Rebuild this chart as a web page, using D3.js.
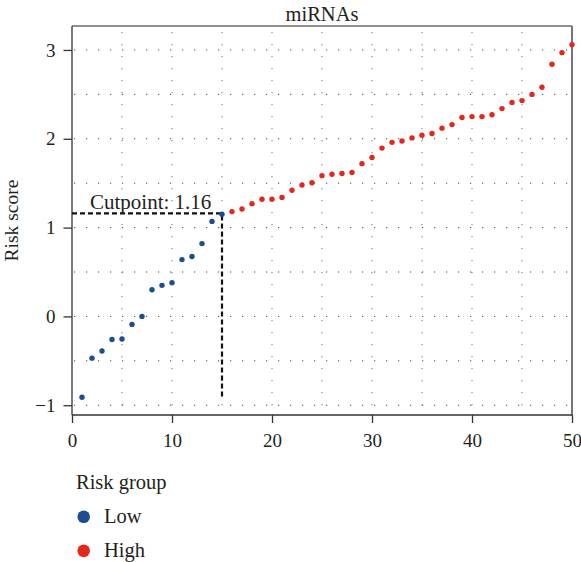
<!DOCTYPE html>
<html><head><meta charset="utf-8">
<script src="https://cdn.jsdelivr.net/npm/d3@7"></script>
<style>body{margin:0;background:#fff}svg{display:block}text{font-family:"Liberation Serif","DejaVu Serif",serif;fill:#231f20}</style>
</head><body>
<script>
const title = "miRNAs";
const sampleIndex = d3.range(1, 51);
const riskScores = [
  -0.91, -0.47, -0.39, -0.26, -0.255, -0.09, 0.0, 0.30, 0.35, 0.38,
  0.64, 0.675, 0.82, 1.07, 1.15, 1.18, 1.21, 1.27, 1.32, 1.32,
  1.34, 1.42, 1.48, 1.505, 1.585, 1.60, 1.61, 1.62, 1.72, 1.79,
  1.895, 1.96, 1.975, 2.01, 2.04, 2.06, 2.12, 2.16, 2.24, 2.25,
  2.25, 2.27, 2.34, 2.41, 2.43, 2.50, 2.58, 2.84, 2.97, 3.06
];
const cutpoint = 1.16;
const cutIndex = 15;
const groups = ["Low", "High"];
const groupColors = ["#1c4c94", "#e2281d"];
const xTicks = [0, 10, 20, 30, 40, 50];
const yTicks = [-1, 0, 1, 2, 3];
const xGrid = [5, 10, 15, 20, 25, 30, 35, 40, 45];
const yGrid = [-1, -0.5, 0, 0.5, 1, 1.5, 2, 2.5, 3];

const W = 581, H = 562;
const L = 72, R = 572, T = 26, B = 415;
const svg = d3.select("body").append("svg").attr("width", W).attr("height", H);

const x = d3.scaleLinear().domain([0, 50]).range([L, R]);
const y = d3.scaleLinear().domain([-1.11, 3.27]).range([B, T]);
const color = d3.scaleOrdinal().domain(groups).range(groupColors);

// grid
svg.append("g").selectAll("line").data(yGrid).join("line")
  .attr("x1", L + 2).attr("x2", R).attr("y1", d => y(d)).attr("y2", d => y(d))
  .attr("stroke", "#444").attr("stroke-width", 1).attr("stroke-dasharray", "1.2,10.8");
svg.append("g").selectAll("line").data(xGrid).join("line")
  .attr("x1", d => x(d)).attr("x2", d => x(d)).attr("y1", T + 6).attr("y2", B)
  .attr("stroke", "#888").attr("stroke-width", 1.2).attr("stroke-dasharray", "1.2,10.8");

// frame
svg.append("line").attr("x1", L).attr("x2", R).attr("y1", T).attr("y2", T).attr("stroke", "#222").attr("stroke-width", 1.2);
svg.append("line").attr("x1", R).attr("x2", R).attr("y1", T).attr("y2", B).attr("stroke", "#666").attr("stroke-width", 1.8);

// axes
const xAxis = svg.append("g").attr("transform", `translate(0,${B})`)
  .call(d3.axisBottom(x).tickValues(xTicks).tickFormat(d3.format("d")).tickSize(8).tickPadding(11).tickSizeOuter(0));
const yAxis = svg.append("g").attr("transform", `translate(${L},0)`)
  .call(d3.axisLeft(y).tickValues(yTicks).tickFormat(d3.format("d")).tickSize(8.5).tickPadding(8).tickSizeOuter(0));
[xAxis, yAxis].forEach(a => {
  a.select(".domain").attr("stroke", "#333").attr("stroke-width", 1.3);
  a.selectAll(".tick line").attr("stroke", "#333").attr("stroke-width", 1.3);
  a.selectAll("text").attr("font-size", 19).attr("font-family", "Liberation Serif").attr("fill", "#231f20");
});
yAxis.select(".domain").attr("d", `M0,${T}V${B}`);
xAxis.select(".domain").attr("d", `M${L},0H${R}`);

// cutpoint lines
svg.append("path")
  .attr("d", `M${x(0)},${y(cutpoint)}H${x(cutIndex)}V${y(d3.min(riskScores))}`)
  .attr("fill", "none").attr("stroke", "#111").attr("stroke-width", 2.2).attr("stroke-dasharray", "5,3");

// points
const data = sampleIndex.map((i, k) => ({i, v: riskScores[k], g: i <= cutIndex ? "Low" : "High"}));
svg.append("g").selectAll("circle").data(data).join("circle")
  .attr("cx", d => x(d.i)).attr("cy", d => y(d.v)).attr("r", 2.7)
  .attr("fill", d => color(d.g));

// texts
svg.append("text").attr("x", (L + R) / 2).attr("y", 21).attr("text-anchor", "middle")
  .attr("font-size", 20.5).text(title);
svg.append("text").attr("x", 90).attr("y", 209).attr("font-size", 21).text("Cutpoint: " + cutpoint.toFixed(2));
svg.append("text").attr("transform", `translate(18,${(T + B) / 2}) rotate(-90)`)
  .attr("text-anchor", "middle").attr("font-size", 19.5).text("Risk score");

// legend
svg.append("text").attr("x", 76).attr("y", 489).attr("font-size", 20.5).text("Risk group");
const lg = svg.append("g").selectAll("g").data(groups).join("g")
  .attr("transform", (d, k) => `translate(0,${516.7 + k * 34})`);
lg.append("circle").attr("cx", 83.7).attr("cy", 0).attr("r", 6.3).attr("fill", d => color(d));
lg.append("text").attr("x", 104).attr("y", 6.5).attr("font-size", 20.5).text(d => d);
</script>
</body></html>
